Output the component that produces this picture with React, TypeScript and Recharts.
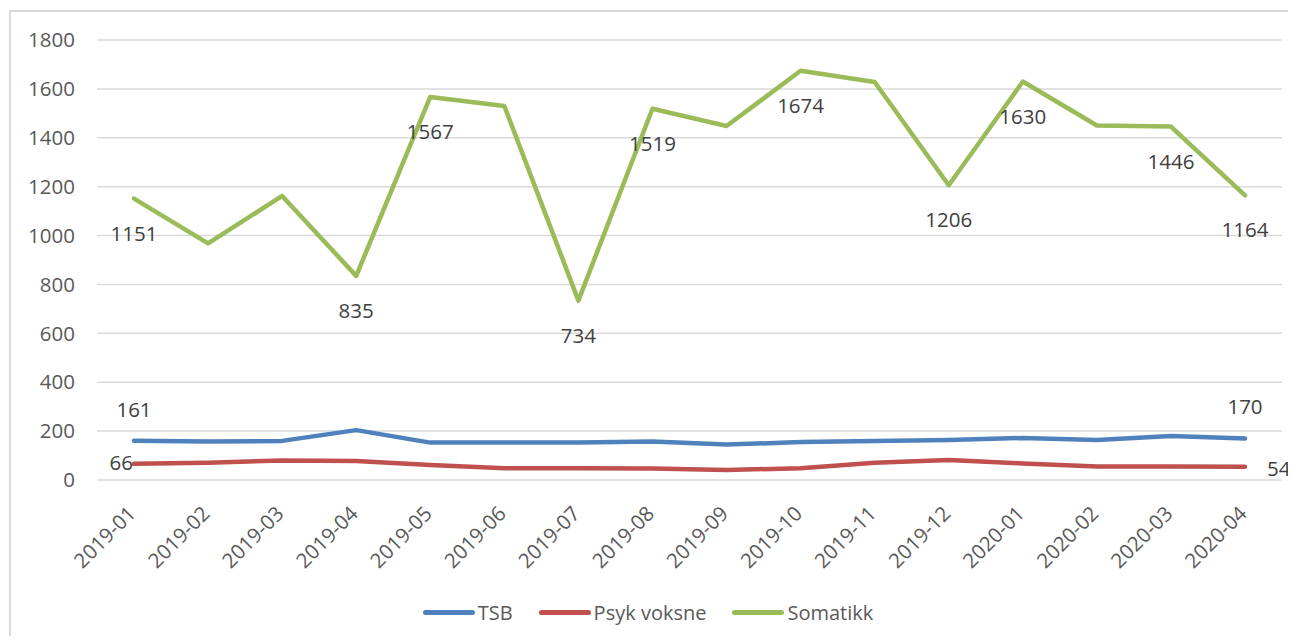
import { LineChart, Line, XAxis, YAxis, CartesianGrid } from "recharts";

const months = [
  "2019-01", "2019-02", "2019-03", "2019-04", "2019-05", "2019-06", "2019-07", "2019-08",
  "2019-09", "2019-10", "2019-11", "2019-12", "2020-01", "2020-02", "2020-03", "2020-04",
];
const tsb = [161, 157, 160, 204, 153, 153, 153, 158, 145, 155, 160, 164, 172, 164, 180, 170];
const psykVoksne = [66, 71, 80, 78, 61, 48, 48, 47, 41, 48, 71, 82, 68, 55, 55, 54];
const somatikk = [1151, 968, 1162, 835, 1567, 1530, 734, 1519, 1448, 1674, 1628, 1206, 1630, 1450, 1446, 1164];
const yTicks = [0, 200, 400, 600, 800, 1000, 1200, 1400, 1600, 1800];

// which points carry a data label
const tsbLabelled = [0, 15];
const psykLabelled = [0, 15];
const somatikkLabelled = [0, 3, 4, 6, 7, 9, 11, 12, 14, 15];

const data = months.map((m, i) => ({ month: m, tsb: tsb[i], psyk: psykVoksne[i], somatikk: somatikk[i] }));

const FONT = "'Open Sans', sans-serif";
const TICK = "#595959";
const LABEL = "#404040";

const series = [
  { key: "tsb", name: "TSB", color: "#4f81bd" },
  { key: "psyk", name: "Psyk voksne", color: "#c0504d" },
  { key: "somatikk", name: "Somatikk", color: "#9bbb59" },
];

// ── label renderers ──────────────────────────────────────────────
function makeLabel(indices: number[], place: "above" | "below" | "edge") {
  return (props: any) => {
    const { x, y, value, index } = props;
    if (!indices.includes(index)) return <g key={index} />;
    let lx = x, ly = y, anchor: "start" | "middle" | "end" = "middle";
    if (place === "above") ly = y - 32;
    if (place === "below") ly = y + 34;
    if (place === "edge" && index === 0) { lx = x - 1; anchor = "end"; ly = y - 2; }
    if (place === "edge" && index !== 0) { lx = x + 22; anchor = "start"; ly = y + 1; }
    return (
      <text key={index} x={lx} y={ly} textAnchor={anchor} dominantBaseline="central" fill={LABEL} fontSize={20.5} fontFamily={FONT}>
        {value}
      </text>
    );
  };
}

function MonthTick({ x, payload }: any) {
  return (
    <text
      x={0}
      y={0}
      transform={`translate(${x + 3},515) rotate(-45)`}
      textAnchor="end"
      fill={TICK}
      fontSize={20.5}
      fontFamily={FONT}
    >
      {payload.value}
    </text>
  );
}

function LegendRow() {
  return (
    <div style={{ position: "absolute", left: 0, top: 598, width: 1296, display: "flex", justifyContent: "center", gap: 26, fontFamily: FONT, fontSize: 20, color: TICK }}>
      {series.map((s) => (
        <div key={s.key} style={{ display: "flex", alignItems: "center", height: 28 }}>
          <div style={{ width: 52, height: 5, borderRadius: 3, background: s.color, marginRight: 3 }} />
          <span>{s.name}</span>
        </div>
      ))}
    </div>
  );
}

export default function App() {
  return (
    <div style={{ position: "relative", width: 1296, height: 644, margin: -8, background: "#fff", overflow: "hidden" }}>
      <div style={{ position: "absolute", left: 9, top: 10, width: 1300, height: 660, borderLeft: "2px solid #d9d9d9", borderTop: "2px solid #d9d9d9" }} />
      <div style={{ position: "absolute", left: 0, top: 0 }}>
        <LineChart width={1296} height={644} data={data} margin={{ top: 40, right: 14, bottom: 64, left: 0 }}>
          <CartesianGrid stroke="#d9d9d9" strokeWidth={1.5} vertical={false} />
          <XAxis
            dataKey="month"
            interval={0}
            axisLine={false}
            tickLine={false}
            height={100}
            padding={{ left: 37, right: 37 }}
            tick={<MonthTick />}
          />
          <YAxis
            domain={[0, 1800]}
            ticks={yTicks}
            width={97}
            axisLine={false}
            tickLine={false}
            tickMargin={16}
            tick={{ fill: TICK, fontSize: 20.5, fontFamily: FONT }}
          />
          <Line dataKey="tsb" name="TSB" stroke="#4f81bd" strokeWidth={4.5} strokeLinecap="round" strokeLinejoin="round" dot={false} isAnimationActive={false} label={makeLabel(tsbLabelled, "above")} />
          <Line dataKey="psyk" name="Psyk voksne" stroke="#c0504d" strokeWidth={4.5} strokeLinecap="round" strokeLinejoin="round" dot={false} isAnimationActive={false} label={makeLabel(psykLabelled, "edge")} />
          <Line dataKey="somatikk" name="Somatikk" stroke="#9bbb59" strokeWidth={4.5} strokeLinecap="round" strokeLinejoin="round" dot={false} isAnimationActive={false} label={makeLabel(somatikkLabelled, "below")} />
        </LineChart>
      </div>
      <LegendRow />
    </div>
  );
}
